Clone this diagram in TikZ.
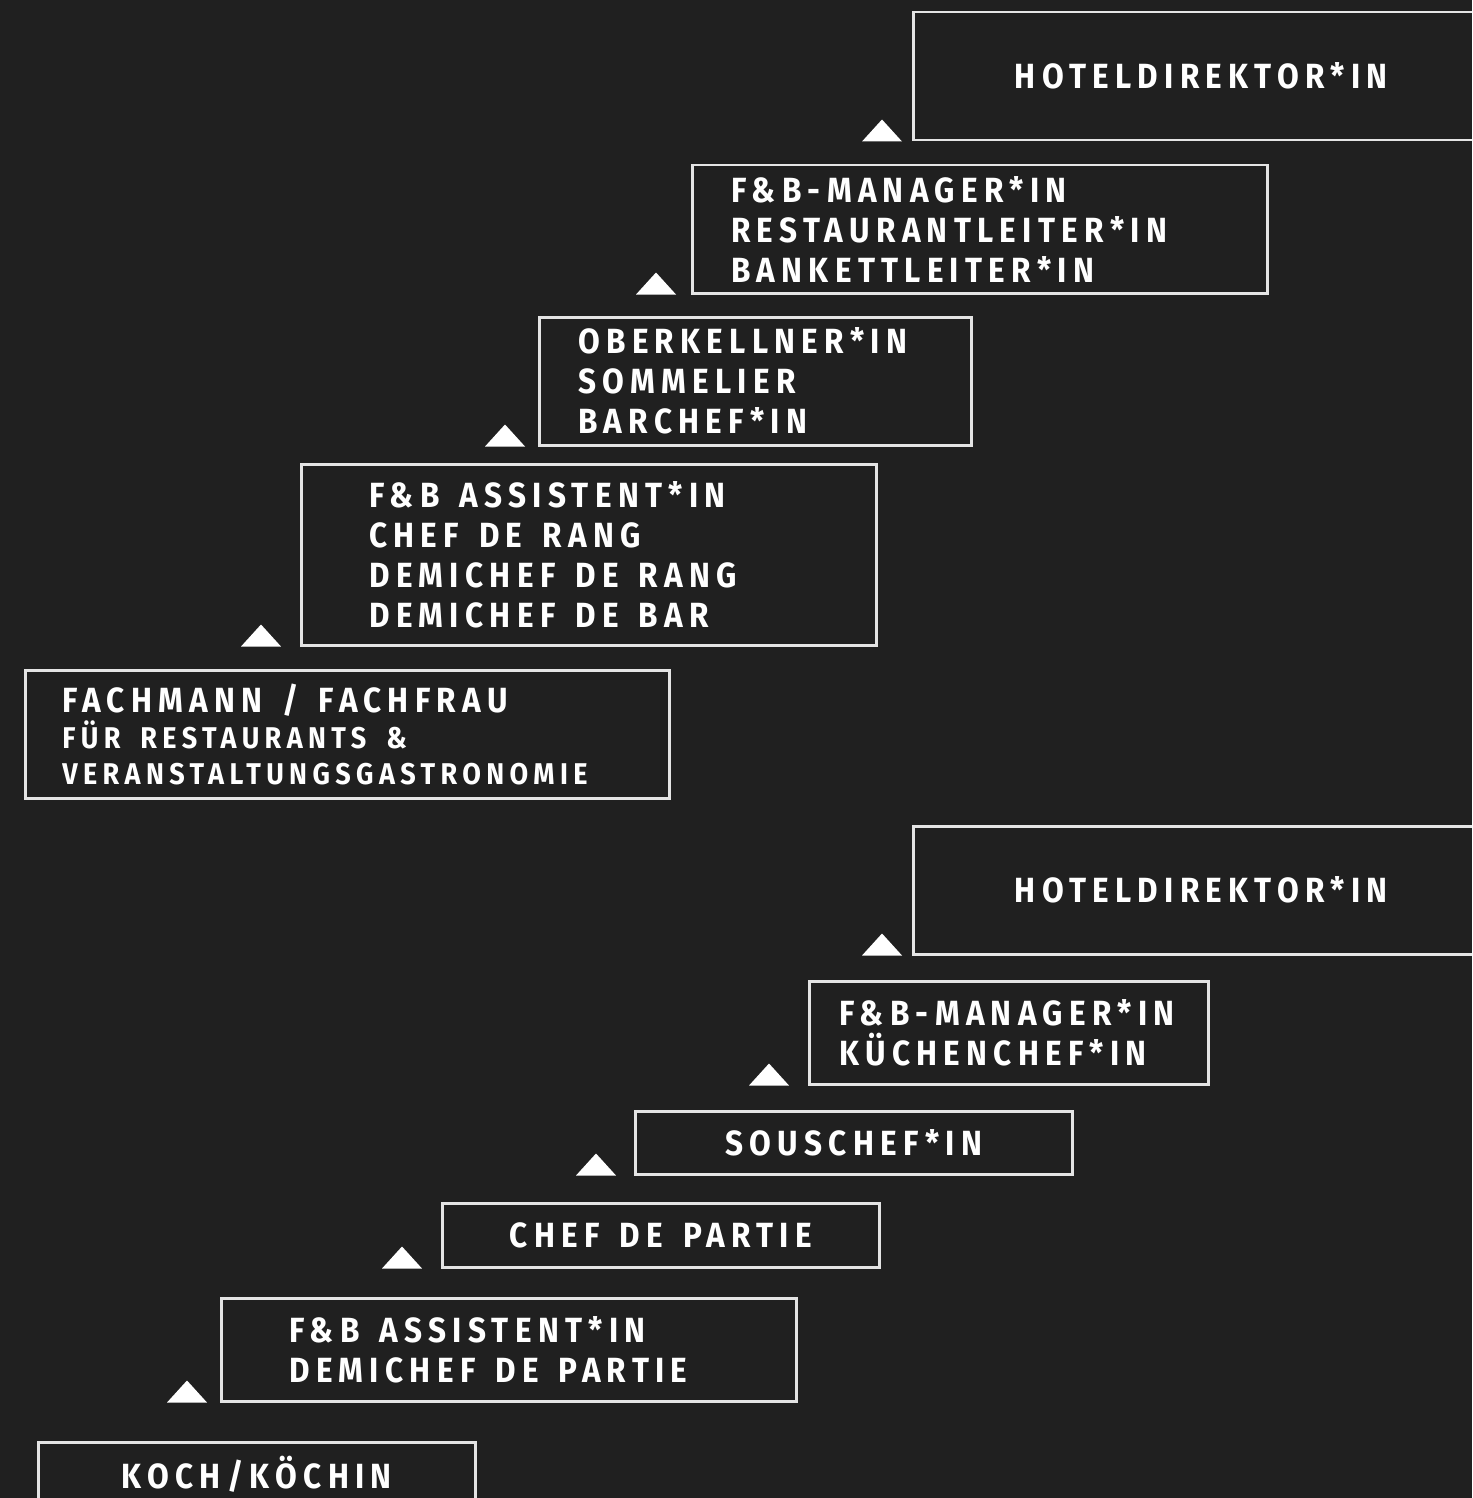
\documentclass[tikz,border=0pt]{standalone}
\usepackage{fontspec}
\newfontfamily\rungfont{Fira Sans}[FakeStretch=0.9,LetterSpace=18]
\usetikzlibrary{calc}
\definecolor{bgdark}{HTML}{202020}
\definecolor{rungline}{HTML}{E4E4E4}
\newcommand\wsp{\hspace{20pt}}

\begin{document}
\begin{tikzpicture}[x=1pt, y=-1pt,
	rung/.style={draw=rungline, line width=2.5pt, anchor=north west, text=white, inner ysep=0pt,
		font=\rungfont\bfseries\fontsize{35}{40}\selectfont},
	]
	\useasboundingbox (0,0) rectangle (1472,1498);
	\fill[bgdark] (0,0) rectangle (1472,1498);
	\clip (0,0) rectangle (1472,1498);

	% service path
	\node[rung, minimum width=576, minimum height=128, align=center](hdA) at (912,11){HOTELDIREKTOR*IN};
	\node[rung, minimum height=128, inner xsep=39, text width=497, align=left](fbmA) at (691,164){F\&B-MANAGER*IN\\RESTAURANTLEITER*IN\\BANKETTLEITER*IN};
	\node[rung, minimum height=128, inner xsep=39, text width=354, align=left](okA) at (538,316){OBERKELLNER*IN\\SOMMELIER\\BARCHEF*IN};
	\node[rung, minimum height=181, inner xsep=68, text width=439, align=left](fbaA) at (300,463){F\&B\wsp ASSISTENT*IN\\CHEF\wsp DE\wsp RANG\\DEMICHEF\wsp DE\wsp RANG\\DEMICHEF\wsp DE\wsp BAR};
	\node[rung, minimum height=128, inner xsep=37, text width=570, align=left](fachA) at (24,669){FACHMANN\wsp /\wsp FACHFRAU\\
		\fontsize{30}{36}\selectfont FÜR\wsp RESTAURANTS\wsp \&\\[-4pt]VERANSTALTUNGSGASTRONOMIE};

	% kitchen path
	\node[rung, minimum width=576, minimum height=128, align=center](hdB) at (912,825){HOTELDIREKTOR*IN};
	\node[rung, minimum height=103, inner xsep=30, text width=339, align=left](fbmB) at (808,980){F\&B-MANAGER*IN\\KÜCHENCHEF*IN};
	\node[rung, minimum width=437, minimum height=63, align=center](souB) at (634,1110){SOUSCHEF*IN};
	\node[rung, minimum width=437, minimum height=64, align=center](cdpB) at (441,1202){CHEF\wsp DE\wsp PARTIE};
	\node[rung, minimum height=103, inner xsep=68, text width=439, align=left](fbaB) at (220,1297){F\&B\wsp ASSISTENT*IN\\DEMICHEF\wsp DE\wsp PARTIE};
	\node[rung, minimum width=437, minimum height=64, align=center](kochB) at (37,1441){KOCH/KÖCHIN};

	\foreach \b/\g in {hdA/10, fbmA/15, okA/13, fbaA/19, hdB/10, fbmB/19, souB/18, cdpB/19, fbaB/13}
	{
		\fill[white] ($(\b.south west)+(-\g,0)$) -- ++(-40,0) -- ++(20,-22) -- cycle;
	}
\end{tikzpicture}
\end{document}
